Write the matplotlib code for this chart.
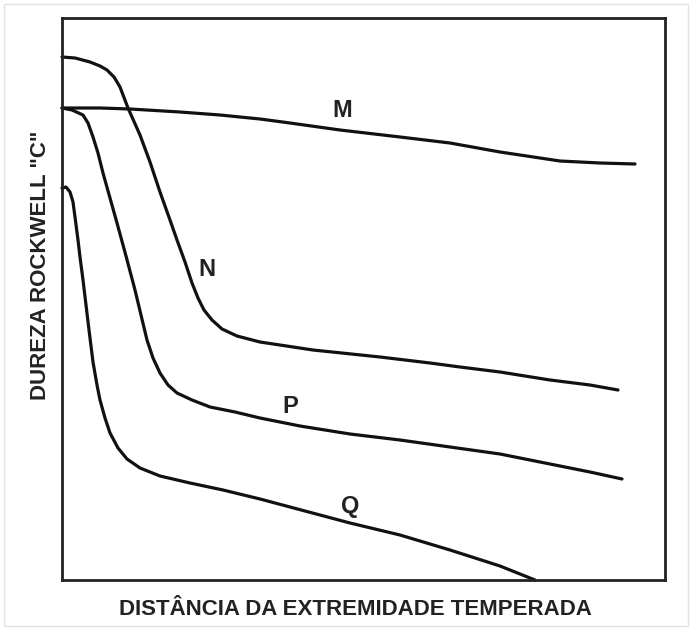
# -*- coding: utf-8 -*-

import matplotlib
matplotlib.use("Agg")
import matplotlib.pyplot as plt
from matplotlib.patches import Rectangle

# Curves: distance from quenched end (arbitrary units)
# and Rockwell C hardness (arbitrary units, no scale in the original).
curve_m_x = [0, 38, 68, 118, 158, 198, 228, 278, 338, 388, 438, 498, 538, 573]
curve_m_y = [472, 472, 471, 468, 465, 461, 457, 450, 443, 437, 428, 419, 417, 416]

curve_n_x = [0, 13, 28, 38, 45, 52, 58, 66, 78, 88, 98, 108, 115, 123, 130, 136,
             142, 150, 160, 175, 198, 251, 318, 368, 398, 438, 488, 528, 556]
curve_n_y = [523, 522, 518, 514, 510, 503, 493, 472, 445, 418, 388, 360, 340, 318,
             297, 282, 270, 260, 251, 244, 238, 230, 223, 217, 213, 208, 200, 195, 190]

curve_p_x = [0, 10, 21, 26, 31, 36, 41, 48, 55, 64, 73, 79, 85, 91, 98, 106, 115,
             130, 148, 173, 198, 238, 288, 338, 388, 438, 488, 528, 560]
curve_p_y = [472, 470, 465, 457, 443, 427, 407, 382, 357, 324, 290, 265, 240, 222,
             207, 195, 187, 180, 173, 168, 162, 154, 146, 140, 133, 126, 116, 108, 101]

curve_q_x = [0, 4, 8, 11, 13, 16, 18, 21, 24, 27, 31, 35, 38, 43, 48, 56, 65, 78,
             98, 128, 161, 198, 228, 258, 288, 338, 388, 438, 473]
curve_q_y = [392, 393, 388, 378, 363, 340, 323, 300, 275, 250, 218, 195, 180, 162,
             147, 132, 121, 112, 104, 97, 90, 81, 73, 65, 57, 45, 30, 14, 0]

curve_names = ["M", "N", "P", "Q"]
label_x = [280, 145, 228, 288]
label_y = [469, 310, 173, 74]

x_title = "DISTÂNCIA DA EXTREMIDADE TEMPERADA"
y_title = 'DUREZA ROCKWELL "C"'

plt.rcParams["font.family"] = ["Liberation Sans", "DejaVu Sans"]

fig = plt.figure(figsize=(6.92, 6.30), dpi=100)
fig.patches.append(Rectangle((0.006, 0.006), 0.988, 0.988, transform=fig.transFigure,
                             fill=False, edgecolor="#e2e2e2", linewidth=1.0))

ax = fig.add_axes([62 / 692, 1 - 580 / 630, 603 / 692, 562 / 630])

for xs, ys in [(curve_m_x, curve_m_y), (curve_n_x, curve_n_y),
               (curve_p_x, curve_p_y), (curve_q_x, curve_q_y)]:
    ax.plot(xs, ys, color="#111111", linewidth=2.3,
            solid_joinstyle="round", solid_capstyle="round", clip_on=False)

for name, lx, ly in zip(curve_names, label_x, label_y):
    ax.text(lx, ly, name, fontsize=17, fontweight="bold", color="#222222",
            ha="center", va="center")

ax.set_xlim(0, 603)
ax.set_ylim(0, 562)
ax.set_xticks([])
ax.set_yticks([])
for spine in ax.spines.values():
    spine.set_linewidth(2.0)
    spine.set_color("#222222")

ax.set_xlabel(x_title, fontsize=16, fontweight="bold", color="#222222")
ax.set_ylabel(y_title, fontsize=16, fontweight="bold", color="#222222")
ax.xaxis.set_label_coords(0.486, -0.053)
ax.yaxis.set_label_coords(-0.036, 0.56)
ax.xaxis.label.set_va("center")
ax.yaxis.label.set_va("center")

fig.savefig("out.png", dpi=100)
